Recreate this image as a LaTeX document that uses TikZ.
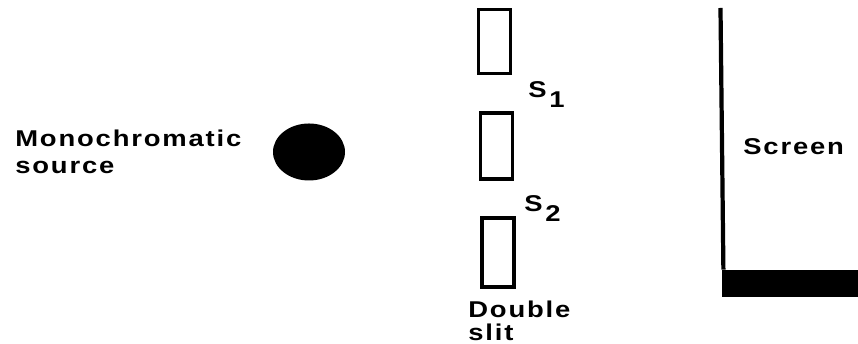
\documentclass[tikz,border=0pt]{standalone}
\usepackage{fontspec}
\setmainfont{Liberation Sans}
\newfontfamily\labelfont[FakeStretch=1.2,LetterSpace=8,Ligatures=NoCommon]{Liberation Sans Bold}
\usepackage{tikz}
\usetikzlibrary{positioning, shapes.geometric}
\newcommand{\slitsub}[1]{\hspace{1.5pt}\raisebox{-5.5pt}{#1}}

\begin{document}
\begin{tikzpicture}[
    lbl/.style={font=\fontsize{13}{15.5}\selectfont\labelfont, inner sep=0pt, align=left},
    slitbox/.style={draw=black, line width=1.8pt, fill=white, minimum width=0.64cm, inner sep=0pt},
    srcdot/.style={ellipse, fill=black, minimum width=1.44cm, minimum height=1.14cm, inner sep=0pt},
    screenbar/.style={rectangle, fill=black, minimum width=2.72cm, minimum height=0.54cm, inner sep=0pt},
    screenline/.style={line width=2.4pt, black},
]
\useasboundingbox (0, 0) rectangle (17.16, 6.88);

% --- Source ---
\node[lbl, anchor=west] (srclabel) at (0.30, 3.84) {Monochromatic\\source};
\node[srcdot] (source) at (6.18, 3.84) {};

% --- Double slit ---
\node[slitbox, minimum height=1.28cm] (slita) at (9.89, 6.05) {};
\node[slitbox, minimum height=1.32cm] (slitb) at (9.93, 3.96) {};
\node[slitbox, minimum height=1.38cm] (slitc) at (9.96, 1.83) {};

\node[lbl, anchor=base west] (sone) at (10.56, 4.92) {S\slitsub{1}};
\node[lbl, anchor=base west] (stwo) at (10.48, 2.64) {S\slitsub{2}};
\node[lbl, anchor=west] (slitlabel) at (9.36, 0.47) {Double\\[-2.3pt]slit};

% --- Screen ---
\node[screenbar] (bar) at (15.80, 1.21) {};
\coordinate (screentop) at (14.41, 6.72);
\draw[screenline] (screentop) -- ([xshift=1pt]bar.north west);
\node[lbl, anchor=base west] (screenlabel) at (14.86, 3.78) {Screen};
\end{tikzpicture}
\end{document}
